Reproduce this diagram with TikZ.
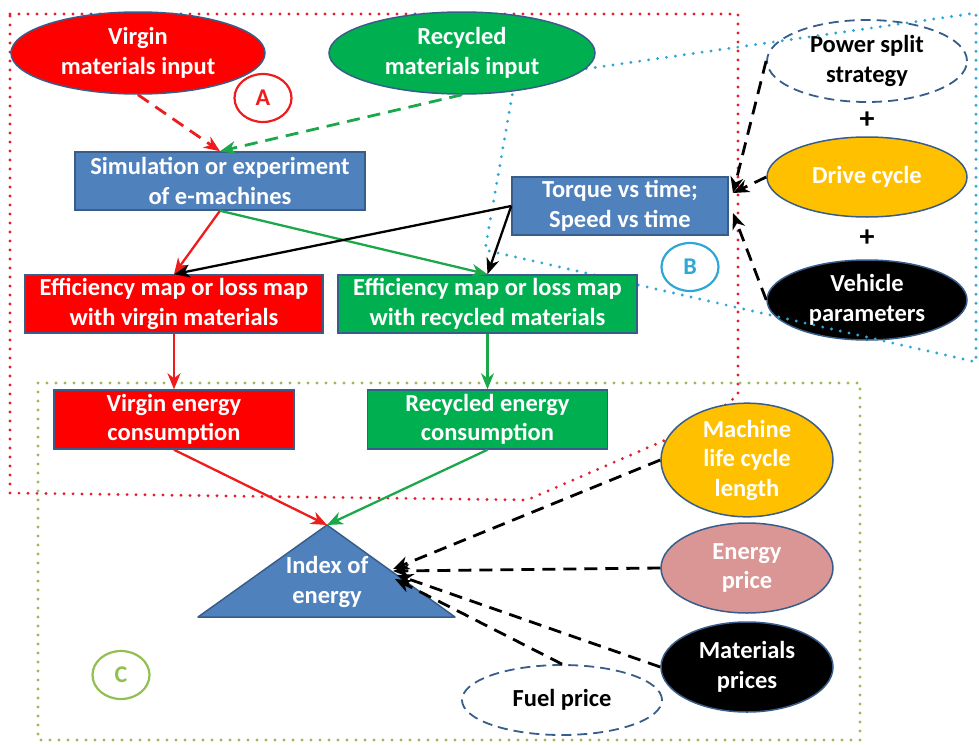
\documentclass[tikz,border=0pt]{standalone}
\usepackage{fontspec}
\setmainfont{Carlito}
\usetikzlibrary{shapes.geometric,arrows.meta}
\definecolor{bd}{HTML}{385D8A}
\definecolor{bblue}{HTML}{4F81BD}
\definecolor{bred}{HTML}{FF0000}
\definecolor{bgreen}{HTML}{00B050}
\definecolor{borange}{HTML}{FFC000}
\definecolor{bpink}{HTML}{D99694}
\definecolor{dred}{HTML}{E0202E}
\definecolor{dcyan}{HTML}{2EA6D6}
\definecolor{dgreen}{HTML}{9BBB59}
\definecolor{lgreen}{HTML}{92C050}
\definecolor{ared}{HTML}{EE1C1C}
\definecolor{agreen}{HTML}{1BA84A}
\tikzset{
 txt/.style={font=\fontsize{24.5}{29.5}\selectfont\bfseries, align=center, inner sep=0pt},
 box/.style={txt, rectangle, draw=bd, line width=1.5pt, text=white},
 ell/.style={txt, ellipse, draw=bd, line width=1.5pt, text=white},
 dell/.style={txt, ellipse, draw=bd, line width=1.8pt, dash pattern=on 10pt off 6pt, fill=white, text=black},
 region/.style={line width=3.2pt, dash pattern=on 0pt off 9pt, line cap=round},
 solidarr/.style={line width=2.3pt, -{Stealth[length=16pt,width=13pt,inset=5pt]}},
 dasharr/.style={line width=2.8pt, dash pattern=on 13pt off 8pt, -{Stealth[length=16pt,width=13pt,inset=5pt]}},
 lbl/.style={ellipse, draw, line width=2.2pt, minimum width=57pt, minimum height=48pt, inner sep=0pt, font=\fontsize{24}{26}\selectfont\bfseries},
}
\begin{document}
\begin{tikzpicture}[x=1pt,y=-1pt]
\useasboundingbox (0,0) rectangle (979,744);
% regions A and C
\draw[region, dred] (10,14) -- (738,14) -- (738,395) -- (700,425) -- (527,500) -- (10,493) -- cycle;
\draw[region, dgreen] (38,383) rectangle (860,740);
% right-side ellipses (under region B)
\node[dell, minimum width=200pt, minimum height=82pt] (power) at (867,61) {Power split\\strategy};
\node[ell, fill=borange, minimum width=200pt, minimum height=80pt] (drive) at (867,177) {Drive cycle};
\node[ell, fill=black, minimum width=200pt, minimum height=80pt] (vehicle) at (867,300) {Vehicle\\parameters};
% region B
\draw[region, dcyan] (515,79) -- (976,13) -- (976,362) -- (485,250) -- cycle;
% plus signs
\node[font=\fontsize{30}{30}\selectfont\bfseries, inner sep=0pt] (plus1) at (867,120) {+};
\node[font=\fontsize{30}{30}\selectfont\bfseries, inner sep=0pt] (plus2) at (867,238) {+};
% nodes
\node[ell, fill=bred, minimum width=254pt, minimum height=82pt] (virgin) at (138,53) {Virgin\\materials input};
\node[ell, fill=bgreen, minimum width=266pt, minimum height=82pt] (recycled) at (462,53) {Recycled\\materials input};
\node[box, fill=bblue, minimum width=290pt, minimum height=58pt] (sim) at (220,181) {Simulation or experiment\\of e-machines};
\node[box, fill=bblue, minimum width=216pt, minimum height=58pt] (torque) at (620,206) {Torque vs time;\\Speed vs time};
\node[box, fill=bred, minimum width=298pt, minimum height=58pt] (effv) at (174,304) {Efficiency map or loss map\\with virgin materials};
\node[box, fill=bgreen, minimum width=299pt, minimum height=58pt] (effr) at (487.5,304) {Efficiency map or loss map\\with recycled materials};
\node[box, fill=bred, minimum width=240pt, minimum height=59pt] (env) at (174,419.5) {Virgin energy\\consumption};
\node[box, fill=bgreen, minimum width=240pt, minimum height=59pt] (enr) at (487.5,419.5) {Recycled energy\\consumption};
\node[ell, fill=borange, minimum width=172pt, minimum height=92pt] (machine) at (747,460) {Machine\\life cycle\\length};
\node[ell, fill=bpink, minimum width=172pt, minimum height=90pt] (energy) at (747,568) {Energy\\price};
\node[ell, fill=black, minimum width=172pt, minimum height=90pt] (materials) at (747,667) {Materials\\prices};
\node[dell, minimum width=200pt, minimum height=70pt] (fuel) at (562,700) {Fuel price};
% triangle
\filldraw[fill=bblue, draw=bd, line width=1.5pt, line join=round] (198,617) -- (327,525) -- (455,617) -- cycle;
\node[txt, text=white] (index) at (327,582) {Index of\\energy};
\coordinate (apex) at (327,525);
% labels
\node[lbl, draw=ared, text=ared] (la) at (263,98) {A};
\node[lbl, draw=dcyan, text=dcyan] (lb) at (690,267) {B};
\node[lbl, draw=lgreen, text=lgreen] (lc) at (121,675) {C};
% tips
\coordinate (t1) at (733,193);
\coordinate (t2) at (733,213);
\coordinate (i1) at (393,569);
\coordinate (i2) at (393,571);
\coordinate (i3) at (397,575);
\coordinate (i4) at (395,579);
% connectors
\draw[dasharr, ared] (virgin.south) -- (sim.north);
\draw[dasharr, agreen] (recycled.south) -- (sim.north);
\draw[solidarr, ared] (sim.south) -- (effv.north);
\draw[solidarr, agreen] (sim.south) -- (effr.north);
\draw[solidarr, black] (torque.west) -- (effv.north);
\draw[solidarr, black] (torque.west) -- (effr.north);
\draw[solidarr, ared] (effv.south) -- (env.north);
\draw[solidarr, agreen] (effr.south) -- (enr.north);
\draw[solidarr, ared] (env.south) -- (apex);
\draw[solidarr, agreen] (enr.south) -- (apex);
\draw[dasharr, black] (power.west) -- (t1);
\draw[dasharr, black] (drive.west) -- (t1);
\draw[dasharr, black] (vehicle.west) -- (t2);
\draw[dasharr, black] (machine.west) -- (i1);
\draw[dasharr, black] (energy.west) -- (i2);
\draw[dasharr, black] (materials.west) -- (i3);
\draw[dasharr, black] (fuel.north) -- (i4);
\end{tikzpicture}
\end{document}
